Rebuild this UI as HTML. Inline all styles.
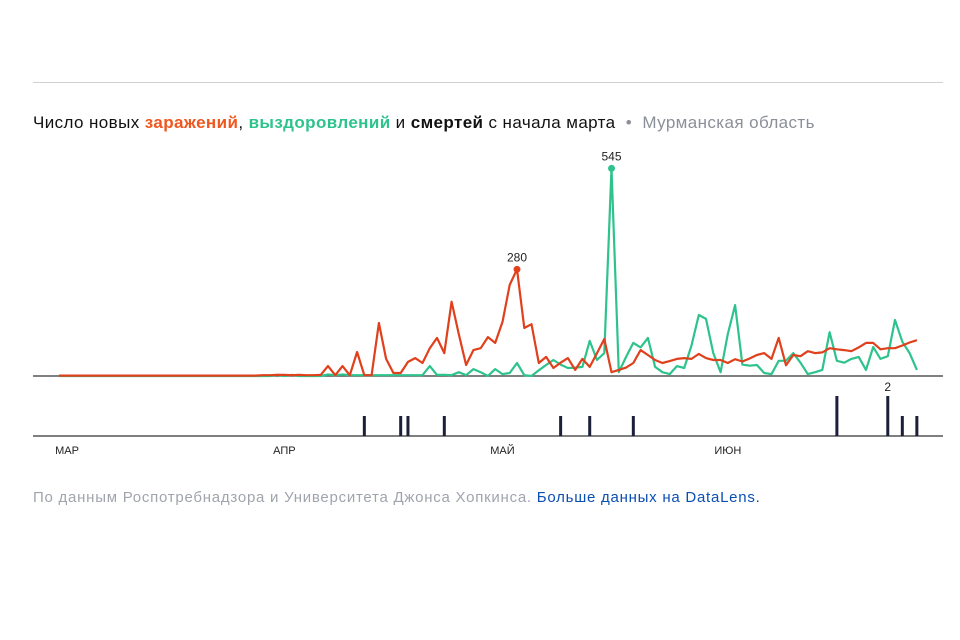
<!DOCTYPE html>
<html><head><meta charset="utf-8">
<style>
body{margin:0;background:#fff;width:960px;height:640px;overflow:hidden;font-family:"Liberation Sans","DejaVu Sans",sans-serif;}
#wrap{position:relative;width:960px;height:640px;}
#rule{position:absolute;left:33px;top:82px;width:910px;height:1px;background:#d0d0d0;}
#title{position:absolute;left:33px;top:113px;font-size:17px;color:#111;white-space:nowrap;letter-spacing:0.4px;}
#footer{position:absolute;left:33px;top:489px;font-size:15px;color:#a0a4ad;white-space:nowrap;letter-spacing:0.75px;}
#footer a{color:#0b4fb3;text-decoration:none;}
svg{position:absolute;left:0;top:0;}
</style></head><body>
<div id="wrap">
<div id="rule"></div>
<div id="title">Число новых <b style="color:#f0571f">заражений</b>, <b style="color:#2ec38c">выздоровлений</b> и <b>смертей</b> с начала марта <span style="color:#8b8f98">&nbsp;•&nbsp; Мурманская область</span></div>
<svg id="chart" width="960" height="640"></svg>
<div id="footer">По данным Роспотребнадзора и Университета Джонса Хопкинса. <a href="#">Больше данных на DataLens.</a></div>
</div>
<script>
const months = ["МАР","АПР","МАЙ","ИЮН"];
const monthStart = [0,31,61,92];
const cases = [1,1,1,1,1,1,1,1,1,1,1,1,1,1,1,1,1,1,1,1,1,1,1,1,1,1,1,1,2,2,3,3,2,3,2,2,3,26,2,26,2,63,2,2,139,45,8,8,37,47,34,73,100,60,195,110,29,68,73,102,87,142,239,280,126,136,34,50,21,35,47,16,45,24,60,97,10,16,22,34,68,55,42,34,39,45,47,45,58,47,42,42,34,44,38,46,55,60,45,100,28,55,52,65,60,62,73,70,68,65,75,87,87,70,73,73,80,88,94];
const recovered = [0,0,0,0,0,0,0,0,0,0,0,0,0,0,0,0,0,0,0,0,0,0,0,0,0,0,0,0,0,0,3,0,3,0,0,0,0,4,2,4,2,2,2,2,2,2,2,2,2,2,2,26,3,3,2,10,2,18,10,0,18,5,8,34,2,0,15,29,42,30,21,22,24,92,42,60,545,10,50,87,75,100,24,10,5,26,21,80,160,150,60,10,110,186,30,27,29,8,5,40,40,60,35,5,10,16,115,40,35,45,50,16,76,45,52,147,90,60,16];
const deathDays = [42,47,48,53,69,73,79,107,114,116,118];
const deathVals = [1,1,1,1,1,1,1,2,2,1,1];

const NS="http://www.w3.org/2000/svg";
const svg=document.getElementById('chart');
const x0=59, dx=7.27, base=376, ky=0.381, dBase=436, dk=20;
const X=i=>x0+i*dx, Y=v=>base-v*ky, DY=v=>dBase-v*dk;
function mk(t,a){const e=document.createElementNS(NS,t);for(const k in a)e.setAttribute(k,a[k]);svg.appendChild(e);return e;}

let ax=mk('line',{x1:33,x2:943,y1:base,y2:base,stroke:'#555',"stroke-width":1.5});


let dax=mk('line',{x1:33,x2:943,y1:dBase,y2:dBase,stroke:'#555',"stroke-width":1.5});



function path(arr,color,name){
  const d=arr.map((v,i)=>(i?'L':'M')+X(i).toFixed(1)+','+Y(v).toFixed(1)).join('');
  const p=mk('path',{d:d,fill:'none',stroke:color,"stroke-width":2.2,"stroke-linejoin":'round'});
  
  
}
path(recovered,'#2ec38c','recovered-line');
path(cases,'#e0401c','cases-line');

function peak(arr,color,name){
  let m=0;arr.forEach((v,i)=>{if(v>arr[m])m=i;});
  const c=mk('circle',{cx:X(m),cy:Y(arr[m]),r:3.5,fill:color});
  
  
  const t=mk('text',{x:X(m),y:Y(arr[m])-8,"text-anchor":'middle',"font-size":12,fill:'#222'});
  t.textContent=arr[m];
  
  
}
peak(cases,'#e0401c','cases-peak');
peak(recovered,'#2ec38c','recovered-peak');

const maxD=Math.max(...deathVals);
deathDays.forEach((d,k)=>{
  const r=mk('rect',{x:X(d)-1.5,y:DY(deathVals[k]),width:3,height:deathVals[k]*dk,fill:'#1c1f3a'});
  
  
});
let lastMax=-1;deathVals.forEach((v,k)=>{if(v===maxD)lastMax=k;});
const dl=mk('text',{x:X(deathDays[lastMax]),y:DY(maxD)-5,"text-anchor":'middle',"font-size":12,fill:'#222'});
dl.textContent=maxD;



months.forEach((m,k)=>{
  const t=mk('text',{x:X(monthStart[k])+(k===0?8:0),y:454,"text-anchor":'middle',"font-size":11,fill:'#222'});
  t.textContent=m;
  
  
});
</script>
</body></html>
